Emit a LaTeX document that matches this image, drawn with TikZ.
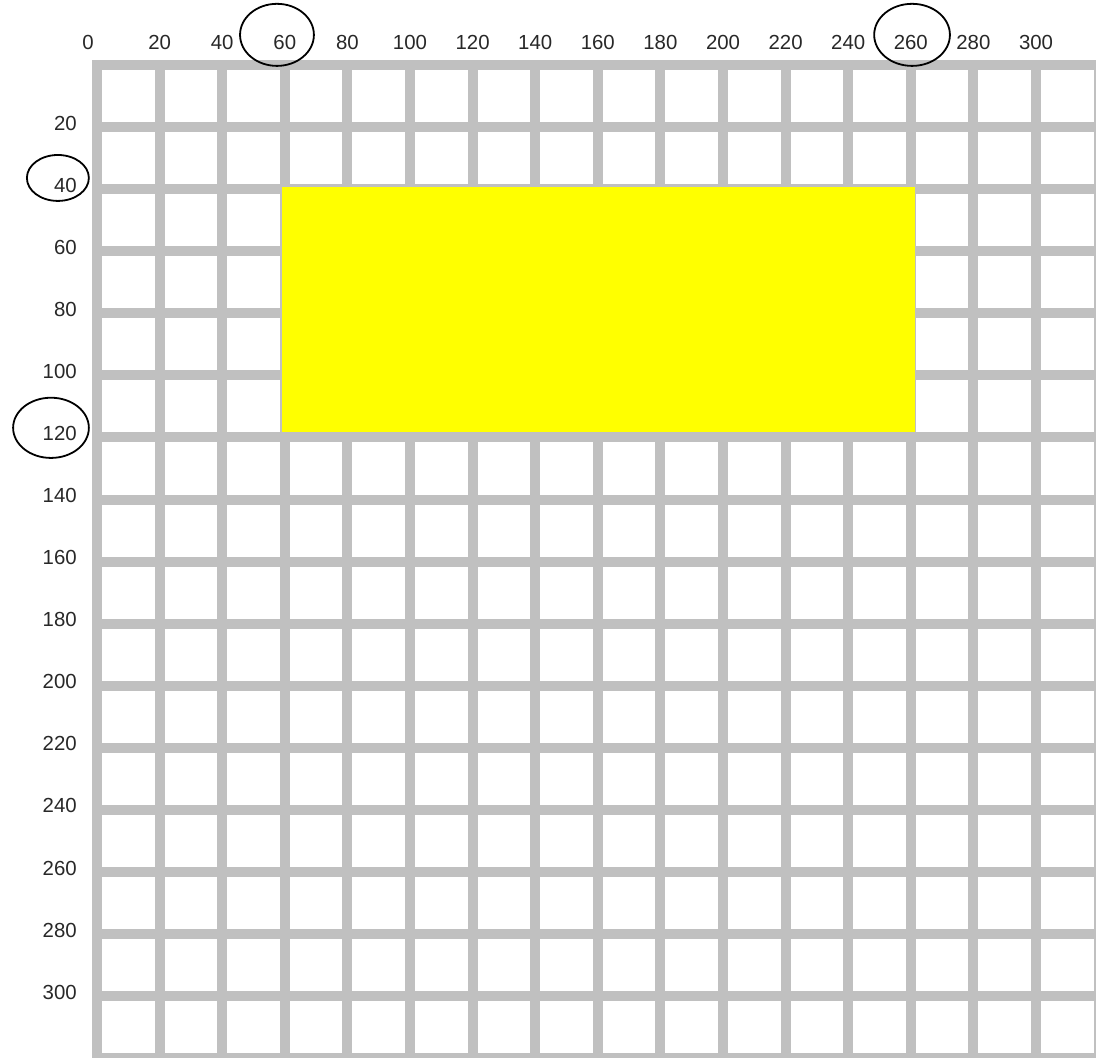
\documentclass[tikz,border=0pt]{standalone}
\usepackage{fontspec}
\setmainfont{Liberation Sans}
\usepackage{tikz}
\usepackage{xcolor}
\definecolor{gridgray}{RGB}{192,192,192}
\definecolor{labelgray}{RGB}{40,40,40}
\definecolor{areayellow}{RGB}{255,255,0}

\begin{document}
\begin{tikzpicture}[x=0.7825mm, y=-0.776mm,
        gridline/.style={draw=gridgray, line width=2.5mm, line cap=rect},
        ticklabel/.style={inner sep=0pt, text=labelgray, font=\fontsize{14.5}{17}\selectfont},
        ring/.style={draw=black, line width=0.45mm}]
        \clip (-30.99,-20.93) rectangle (319.17,319.81);
        \fill[white] (-30.99,-20.93) rectangle (319.17,319.81);
        % grid
        \foreach \v in {0,20,...,320} {
            \draw[gridline] (\v,0) -- (\v,330);
            \draw[gridline] (0,\v) -- (330,\v);
        }
        % highlighted area
        \fill[areayellow] (59.1,39.3) rectangle (261.3,118.2);
        % labels
        \node[ticklabel] (top0) at (-2.9,-7.4) {0};
        \foreach \v in {20,40,...,300} {
            \node[ticklabel] (top\v) at (\v,-7.4) {\v};
            \node[ticklabel, anchor=east] (left\v) at (-6.4,\v-1.3) {\v};
        }
        % circled values
        \draw[ring] (57.5,-9.7) ellipse [x radius=11.8, y radius=10];
        \draw[ring] (260.4,-9.7) ellipse [x radius=12.1, y radius=10];
        \draw[ring] (-12.5,36.4) ellipse [x radius=9.9, y radius=7.4];
        \draw[ring] (-14.7,116.9) ellipse [x radius=12.1, y radius=9.7];
\end{tikzpicture}
\end{document}
